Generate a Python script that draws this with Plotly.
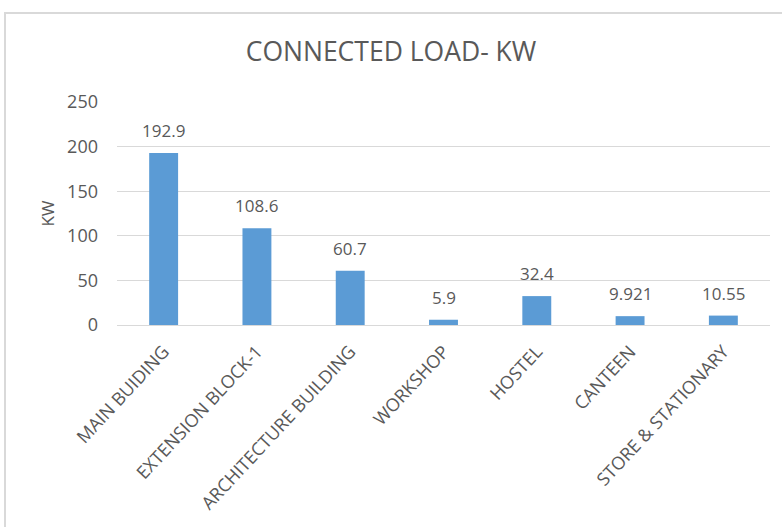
import plotly.graph_objects as go

categories = ["MAIN BUIDING", "EXTENSION BLOCK-1", "ARCHITECTURE BUILDING",
              "WORKSHOP", "HOSTEL", "CANTEEN", "STORE & STATIONARY"]
values = [192.9, 108.6, 60.7, 5.9, 32.4, 9.921, 10.55]
y_ticks = [0, 50, 100, 150, 200, 250]

GREY = "#595959"
FONT = "Open Sans"

fig = go.Figure(go.Bar(
    x=categories, y=values,
    cliponaxis=False,
    marker=dict(color="#5b9bd5", line=dict(width=0)),
    hoverinfo="x+y",
))

# data labels placed above each bar via the data axes
for c, v in zip(categories, values):
    fig.add_annotation(x=c, y=v, xref="x", yref="y", text=str(v),
                       showarrow=False, yanchor="bottom", yshift=9,
                       font=dict(family=FONT, size=17, color=GREY))

fig.update_layout(
    width=782, height=527,
    margin=dict(l=117, r=12, t=102, b=202, autoexpand=False),
    paper_bgcolor="white", plot_bgcolor="white",
    bargap=0.69,
    showlegend=False,
    title=dict(text="CONNECTED LOAD- KW", x=0.5, xanchor="center",
               y=1 - 52 / 527, yanchor="middle",
               font=dict(family=FONT, size=26.5, color=GREY)),
    font=dict(family=FONT, color=GREY),
)

fig.update_yaxes(range=[0, 250], tickvals=y_ticks, showgrid=True, automargin=False,
                 gridcolor="#d9d9d9", gridwidth=1, zeroline=False,
                 showline=False, ticks="", ticklabelstandoff=18,
                 tickfont=dict(family=FONT, size=18, color=GREY),
                 title=dict(text="KW", font=dict(family=FONT, size=17, color=GREY),
                            standoff=8))
fig.update_xaxes(tickangle=-47, showline=True, linecolor="#d9d9d9", linewidth=1,
                 automargin=False, ticks="", ticklabelstandoff=8,
                 tickfont=dict(family=FONT, size=18, color=GREY))

# outer chart-area border (extends past page edges as in the cropped reference)
fig.add_shape(type="rect", xref="paper", yref="paper",
              x0=(5 - 117) / 653, x1=1.2, y0=-1.5, y1=(325 - 13) / 223,
              line=dict(color="#d9d9d9", width=2), fillcolor="rgba(0,0,0,0)",
              layer="below")

fig.write_html("out.html", config={"displayModeBar": False},
               post_script="document.body.style.margin='0';document.body.style.overflow='hidden';")
